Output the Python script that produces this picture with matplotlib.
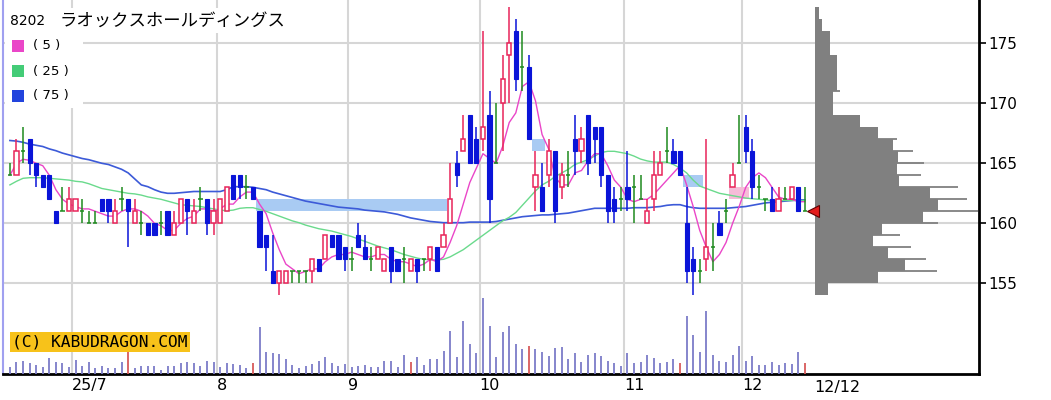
import matplotlib
matplotlib.use('Agg')
import matplotlib.pyplot as plt
from matplotlib.patches import Rectangle
import numpy as np
import pandas as pd

plt.rcParams['font.family'] = ['DejaVu Sans', 'Noto Sans CJK JP']

# 取引日 (2025/6/17 - 12/12, 祝日除く)
holidays = ['2025-07-21', '2025-08-11', '2025-09-15', '2025-09-23',
            '2025-10-13', '2025-11-03', '2025-11-24']
dates = pd.bdate_range('2025-06-17', '2025-12-12')
dates = dates[~dates.isin(pd.to_datetime(holidays))]

opens = [164, 164, 166, 167, 165, 164, 164, 161, 161, 161,
         161, 161, 160, 160, 162, 162, 160, 162, 162, 160,
         160, 160, 160, 160, 161, 159, 160, 162, 160, 162,
         162, 160, 160, 161, 164, 164, 163, 163, 161, 159,
         156, 155, 155, 156, 156, 156, 156, 157, 157, 159,
         159, 158, 157, 159, 158, 157, 157, 156, 158, 157,
         157, 156, 157, 157, 157, 158, 158, 160, 165, 166,
         169, 167, 167, 169, 165, 170, 174, 176, 173, 173,
         163, 163, 164, 166, 163, 164, 167, 166, 169, 168,
         168, 164, 162, 162, 163, 163, 162, 160, 162, 164,
         166, 166, 166, 160, 157, 156, 157, 158, 160, 161,
         163, 165, 168, 166, 163, 162, 162, 161, 162, 162,
         163, 161]
highs = [165, 167, 168, 167, 165, 164, 164, 161, 163, 163,
         162, 162, 161, 161, 162, 162, 162, 163, 162, 162,
         161, 160, 160, 161, 161, 161, 162, 162, 162, 163,
         162, 162, 162, 163, 164, 164, 164, 163, 161, 159,
         159, 156, 156, 156, 156, 156, 157, 157, 159, 159,
         159, 158, 158, 160, 159, 158, 158, 157, 158, 157,
         158, 157, 157, 157, 158, 158, 160, 165, 166, 169,
         169, 168, 176, 171, 170, 174, 178, 177, 176, 174,
         166, 165, 167, 166, 165, 166, 169, 168, 169, 168,
         168, 164, 163, 163, 166, 164, 164, 162, 166, 166,
         168, 167, 166, 163, 158, 157, 167, 160, 161, 162,
         165, 169, 169, 167, 164, 162, 163, 163, 163, 163,
         163, 163]
lows = [164, 164, 165, 164, 163, 163, 162, 160, 161, 161,
        161, 160, 160, 160, 161, 160, 160, 161, 158, 160,
        159, 159, 159, 159, 159, 159, 160, 159, 160, 161,
        159, 159, 160, 161, 162, 162, 162, 162, 158, 156,
        155, 154, 155, 155, 155, 155, 155, 156, 157, 158,
        157, 156, 156, 158, 157, 156, 157, 156, 155, 156,
        155, 156, 155, 156, 156, 156, 158, 160, 163, 166,
        165, 165, 166, 160, 165, 166, 170, 171, 171, 167,
        161, 161, 163, 160, 162, 163, 164, 165, 164, 165,
        163, 160, 160, 161, 161, 160, 162, 160, 161, 164,
        165, 165, 164, 155, 154, 155, 156, 156, 159, 160,
        163, 165, 165, 162, 162, 161, 161, 161, 162, 162,
        161, 161]
closes = [164, 166, 166, 165, 164, 163, 162, 160, 161, 162,
          162, 161, 160, 160, 161, 161, 161, 162, 161, 161,
          160, 159, 159, 160, 159, 160, 162, 161, 161, 162,
          160, 161, 162, 163, 162, 163, 163, 162, 158, 158,
          155, 156, 156, 156, 156, 156, 157, 156, 159, 158,
          157, 157, 157, 158, 157, 157, 158, 157, 156, 156,
          157, 157, 156, 157, 158, 156, 159, 162, 164, 167,
          165, 165, 168, 162, 165, 172, 175, 172, 173, 167,
          164, 161, 166, 161, 164, 164, 166, 167, 165, 167,
          164, 161, 161, 162, 162, 163, 162, 161, 164, 165,
          166, 165, 164, 156, 156, 156, 158, 158, 159, 161,
          164, 165, 166, 163, 163, 162, 161, 162, 162, 163,
          161, 161]
volumes = [7, 12, 13, 11, 9, 7, 16, 12, 11, 7,
           14, 8, 12, 6, 8, 6, 6, 12, 23, 6,
           8, 8, 8, 4, 8, 8, 11, 12, 11, 8,
           13, 12, 7, 11, 10, 9, 6, 11, 47, 22,
           21, 20, 15, 9, 6, 8, 10, 13, 17, 11,
           8, 10, 7, 8, 9, 7, 7, 13, 13, 7,
           19, 12, 17, 9, 15, 15, 23, 43, 17, 53,
           30, 21, 76, 48, 17, 42, 48, 30, 25, 28,
           25, 22, 18, 26, 27, 15, 21, 12, 19, 21,
           18, 13, 11, 8, 21, 11, 12, 19, 16, 11,
           12, 15, 11, 58, 39, 22, 63, 19, 13, 12,
           19, 28, 13, 18, 9, 9, 12, 9, 11, 10,
           22, 11]
ma25 = [163.2, 163.5, 163.75, 163.8, 163.8, 163.8, 163.75, 163.7, 163.65, 163.6,
        163.5, 163.45, 163.3, 163.1, 162.9, 162.8, 162.7, 162.6, 162.5, 162.45,
        162.35, 162.2, 162.1, 162.0, 161.85, 161.7, 161.55, 161.5, 161.45, 161.4,
        161.3, 161.2, 161.1, 161.05, 161.1, 161.25, 161.3, 161.3, 161.15, 161.0,
        160.8, 160.6, 160.4, 160.2, 160.05, 159.85, 159.7, 159.55, 159.45, 159.35,
        159.2, 159.05, 158.9, 158.7, 158.5, 158.3, 158.1, 157.95, 157.8, 157.6,
        157.4, 157.25, 157.1, 157.0, 156.95, 156.95, 157.0, 157.2, 157.5, 157.8,
        158.2, 158.6, 159.0, 159.4, 159.8, 160.2, 160.5, 160.9, 161.5, 162.1,
        162.7, 163.2, 163.5, 163.9, 164.2, 164.5, 164.9, 165.1, 165.3, 165.6,
        165.9, 166.0, 166.0, 165.9, 165.8, 165.6, 165.35, 165.2, 165.1, 165.1,
        165.1, 164.9, 164.6, 164.2, 163.6, 163.1, 162.9, 162.7, 162.5, 162.4,
        162.3, 162.2, 162.1, 162.05, 162.0, 161.95, 161.9, 161.9, 161.9, 161.9,
        161.9, 161.9]
ma75 = [166.9, 166.85, 166.75, 166.6, 166.5, 166.4, 166.2, 166.05, 165.85, 165.7,
        165.55, 165.4, 165.3, 165.15, 165.0, 164.9, 164.7, 164.5, 164.2, 163.7,
        163.2, 163.05, 162.8, 162.6, 162.5, 162.5, 162.55, 162.6, 162.65, 162.65,
        162.65, 162.65, 162.65, 162.8, 163.05, 163.05, 163.05, 163.0, 162.9, 162.8,
        162.6, 162.45, 162.3, 162.15, 162.0, 161.85, 161.75, 161.65, 161.55, 161.45,
        161.35, 161.3, 161.25, 161.2, 161.1, 161.05, 161.0, 160.95, 160.85, 160.75,
        160.6, 160.45, 160.35, 160.25, 160.15, 160.1, 160.05, 160.05, 160.05, 160.05,
        160.1, 160.1, 160.1, 160.1, 160.15, 160.25, 160.35, 160.45, 160.55, 160.6,
        160.65, 160.7, 160.7, 160.75, 160.8, 160.85, 160.95, 161.05, 161.15, 161.25,
        161.25, 161.25, 161.25, 161.25, 161.25, 161.3, 161.3, 161.3, 161.35, 161.4,
        161.5, 161.55, 161.55, 161.4, 161.3, 161.25, 161.25, 161.25, 161.25, 161.25,
        161.3, 161.35, 161.4, 161.5, 161.6, 161.7, 161.75, 161.8, 161.85, 161.9,
        161.95, 161.95]

# SQ日 (出来高を赤で表示)
sq_days = ['2025-07-11', '2025-08-08', '2025-09-12', '2025-10-10', '2025-11-14', '2025-12-12']

# 窓 (開始日, 埋めた日, 下値, 上値, 種類)
gaps = [('2025-08-12', '2025-09-24', 161, 162, 'down'),
        ('2025-10-14', '2025-10-16', 166, 167, 'down'),
        ('2025-11-17', '2025-11-20', 163, 164, 'down'),
        ('2025-11-27', '2025-12-02', 162, 163, 'up')]

# 価格帯別出来高
profile_bins = list(range(154, 178))
profile_vol = [13, 63, 90, 73, 58, 67, 108, 123, 115, 84, 82, 83,
               78, 63, 45, 18, 18, 22, 22, 22, 15, 15, 7, 4]
profile_line_px = [156, 157, 158, 159, 160, 161, 162, 163, 164, 165, 166, 167, 171]
profile_line_vol = [122, 111, 96, 85, 123, 163, 152, 143, 106, 109, 98, 82, 25]

title_code = '8202'
title_name = 'ラオックスホールディングス'
ma_labels = ['( 5 )', '( 25 )', '( 75 )']

# ---- レイアウト ----
W, H = 1051, 400
X0, STEP = 9.9, 6.57          # 1本目のローソク足の位置と間隔 (px)
LEFT, RIGHT, BOTTOM = 3, 979, 374
PROF_LEFT = 815

C_UP = '#e8245a'
C_DOWN = '#0a14d8'
C_DOJI = '#1e8a1e'
C_MA5 = '#ea46c8'
C_MA25 = '#6ada8c'
C_MA75 = '#3c5ad8'

n = len(dates)
idx = np.arange(n)
ma5 = pd.Series(closes).rolling(5, min_periods=1).mean()

def py(p):
    return 175 - (p - 43.3) / 12.0

fig = plt.figure(figsize=(W / 100, H / 100), dpi=100)
ax = fig.add_axes([LEFT / W, (H - BOTTOM) / H, (RIGHT - LEFT) / W, BOTTOM / H])
axv = ax.twinx()
ax.set_xlim((LEFT - X0) / STEP, (RIGHT - X0) / STEP)
ax.set_ylim(py(BOTTOM), py(0))

# グリッド
month_first = [i for i in range(1, n) if dates[i].month != dates[i - 1].month]
month_pos = [i - 0.5 for i in month_first]
month_lbl = []
for k, i in enumerate(month_first):
    month_lbl.append(f"{dates[i].year % 100}/{dates[i].month}" if k == 0 else str(dates[i].month))
ax.set_xticks(month_pos)
ax.set_xticklabels(month_lbl, ha='left', fontsize=11.5)
ax.tick_params(axis='x', length=0, pad=3)
ax.set_yticks([155, 160, 165, 170, 175])
ax.tick_params(axis='y', left=False, labelleft=False, right=True, labelright=True,
               direction='out', length=5, width=1.2, labelsize=11, pad=2)
ax.grid(True, color='#d6d6d6', lw=1.5, zorder=0)
ax.set_axisbelow(True)
ax.spines['top'].set_visible(False)
ax.spines['left'].set_color('#a0a0f0')
ax.spines['left'].set_linewidth(1.5)
ax.spines['bottom'].set_linewidth(2)
ax.spines['right'].set_linewidth(2)
ax.annotate(f"{dates[-1].month}/{dates[-1].day}", xy=(n + 0.5, 0),
            xycoords=ax.get_xaxis_transform(), xytext=(0, -4), textcoords='offset points',
            ha='left', va='top', fontsize=11.5)

# 窓
for g0, g1, lo, hi, kind in gaps:
    a = dates.get_loc(pd.Timestamp(g0)) - 0.5
    b = dates.get_loc(pd.Timestamp(g1)) - 0.5
    ax.add_patch(Rectangle((a, lo), b - a, hi - lo,
                           facecolor='#a9cbf3' if kind == 'down' else '#f6bcd8',
                           edgecolor='none', zorder=1))

# 移動平均
ax.plot(idx, ma75, color=C_MA75, lw=1.2, zorder=2)
ax.plot(idx, ma25, color=C_MA25, lw=1.0, zorder=2)
ax.plot(idx, ma5, color=C_MA5, lw=1.0, zorder=2)

# ローソク足
bw = 0.64
for i in range(n):
    o, h, l, c = opens[i], highs[i], lows[i], closes[i]
    if c > o:
        ax.vlines(i, l, h, color=C_UP, lw=1.1, zorder=3)
        ax.add_patch(Rectangle((i - bw / 2, o), bw, c - o, facecolor='white',
                               edgecolor=C_UP, lw=1.1, zorder=4))
    elif c < o:
        ax.vlines(i, l, h, color=C_DOWN, lw=1.1, zorder=3)
        ax.add_patch(Rectangle((i - bw / 2, c), bw, o - c, facecolor=C_DOWN,
                               edgecolor=C_DOWN, lw=0.8, zorder=4))
    else:
        ax.vlines(i, l, h, color=C_DOJI, lw=1.1, zorder=3)
        ax.hlines(o, i - bw / 2, i + bw / 2, color=C_DOJI, lw=1.1, zorder=3)

# 出来高
axv.set_ylim(0, BOTTOM)
axv.set_yticks([])
for s in axv.spines.values():
    s.set_visible(False)
sq_idx = [dates.get_loc(pd.Timestamp(d)) for d in sq_days]
vcol = ['#d85a5a' if i in sq_idx else '#7c7cc8' for i in range(n)]
axv.vlines(idx, 0, volumes, colors=vcol, lw=1.3)

# 価格帯別出来高
axp = fig.add_axes([PROF_LEFT / W, (H - BOTTOM) / H, (RIGHT - PROF_LEFT) / W, BOTTOM / H])
axp.set_ylim(ax.get_ylim())
axp.set_xlim(0, RIGHT - PROF_LEFT)
axp.axis('off')
axp.barh(np.array(profile_bins) + 0.5, profile_vol, height=1.0, color='#808080', zorder=2)
axp.hlines(profile_line_px, 0, profile_line_vol, color='#808080', lw=1.3, zorder=2)
axp.plot(-2, closes[-1], marker='<', ms=8, color='#e41c1c', mec='#600000', mew=0.8,
         clip_on=False, zorder=5)

# 凡例
fig.patches.append(Rectangle((5 / W, 1 - 108 / H), 78 / W, 100 / H, transform=fig.transFigure,
                             facecolor='white', edgecolor='none', zorder=1))
fig.patches.append(Rectangle((5 / W, 1 - 33 / H), 290 / W, 25 / H, transform=fig.transFigure,
                             facecolor='white', edgecolor='none', zorder=1))
fig.text(10 / W, 1 - 21 / H, title_code, fontsize=10, va='center', ha='left', zorder=2)
fig.text(60 / W, 1 - 21 / H, title_name, fontsize=12.5, va='center', ha='left',
         family=['Noto Sans CJK JP'], zorder=2)
for k, (lbl, col) in enumerate(zip(ma_labels, [C_MA5, '#44cc77', '#2244dd'])):
    yc = 46 + 25 * k
    fig.patches.append(Rectangle((12 / W, 1 - (yc + 6) / H), 12 / W, 12 / H,
                                 transform=fig.transFigure, facecolor=col,
                                 edgecolor='none', zorder=2))
    fig.text(33 / W, 1 - yc / H, lbl, fontsize=9.5, va='center', ha='left', zorder=2)

# コピーライト
fig.text(12 / W, 1 - 342 / H, '(C) KABUDRAGON.COM', fontsize=11.7, family='DejaVu Sans Mono',
         va='center', ha='left', zorder=3,
         bbox=dict(boxstyle='square,pad=0.15', facecolor='#f7c21a', edgecolor='none'))

fig.savefig('out.png', dpi=100)
